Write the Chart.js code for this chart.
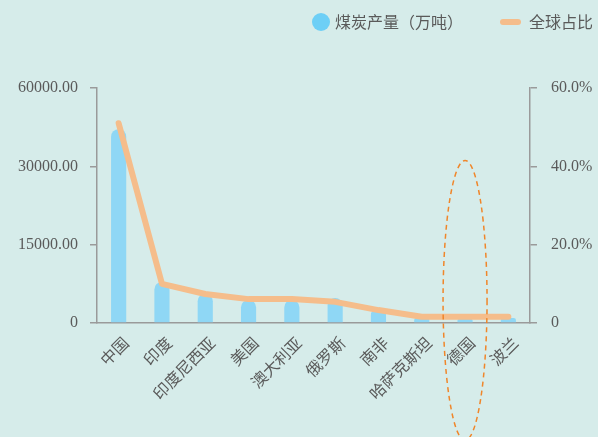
<!DOCTYPE html>
<html lang="zh">
<head>
<meta charset="UTF-8">
<title>煤炭产量与全球占比</title>
<script src="https://cdn.jsdelivr.net/npm/chart.js"></script>
<style>
    html, body { margin: 0; padding: 0; background: #d6ecea; }
    #wrap { width: 598px; height: 437px; }
</style>
</head>
<body>
<div id="wrap"><canvas id="coalChart" width="598" height="437"></canvas></div>
<script>
    // 数据
    const countries = ['中国', '印度', '印度尼西亚', '美国', '澳大利亚', '俄罗斯', '南非', '哈萨克斯坦', '德国', '波兰'];
    const output = [49500, 10500, 7500, 5900, 5900, 6400, 3800, 1300, 1100, 1300];   // 煤炭产量（万吨）
    const share = [51.0, 10.0, 7.4, 6.1, 6.1, 5.4, 3.3, 1.6, 1.6, 1.6];               // 全球占比 %
    const leftTickLabels = ['0', '15000.00', '30000.00', '60000.00'];
    const rightTickLabels = ['0', '20.0%', '40.0%', '60.0%'];
    const legendNames = ['煤炭产量（万吨）', '全球占比'];

    const cjk = '"Noto Sans CJK SC", sans-serif';
    const serif = '"Liberation Serif", serif';
    const axisGray = '#9a9a9a';
    const textGray = '#5a5a5a';

    // 自绘图例 + 德国处虚线椭圆
    const extras = {
        id: 'extras',
        afterDatasetsDraw(chart) {
            const ctx = chart.ctx;
            const x = chart.scales.x;
            const yr = chart.scales.yRight;
            ctx.save();
            ctx.strokeStyle = '#f0862a';
            ctx.lineWidth = 1.5;
            ctx.setLineDash([5, 4]);
            const cx = x.getPixelForValue(8);
            const top = yr.getPixelForValue(41.5);
            const ry = 140;
            ctx.beginPath();
            ctx.ellipse(cx, top + ry, 22, ry, 0, 0, Math.PI * 2);
            ctx.stroke();
            ctx.restore();
        },
        afterDraw(chart) {
            const ctx = chart.ctx;
            ctx.save();
            ctx.textBaseline = 'middle';
            ctx.font = '16px ' + cjk;
            ctx.fillStyle = '#6dcff6';
            ctx.beginPath();
            ctx.arc(321, 22, 9, 0, Math.PI * 2);
            ctx.fill();
            ctx.fillStyle = textGray;
            ctx.fillText(legendNames[0], 335, 22);
            ctx.strokeStyle = '#f5bd8b';
            ctx.lineWidth = 6;
            ctx.lineCap = 'round';
            ctx.beginPath();
            ctx.moveTo(503, 22);
            ctx.lineTo(518, 22);
            ctx.stroke();
            ctx.fillText(legendNames[1], 529, 22);
            ctx.restore();
        }
    };

    new Chart(document.getElementById('coalChart'), {
        data: {
            labels: countries,
            datasets: [
                {
                    type: 'line',
                    label: legendNames[1],
                    data: share,
                    yAxisID: 'yRight',
                    borderColor: '#f5bd8b',
                    borderWidth: 6,
                    borderCapStyle: 'round',
                    borderJoinStyle: 'round',
                    pointRadius: 0,
                    tension: 0,
                    order: 0
                },
                {
                    type: 'bar',
                    label: legendNames[0],
                    data: output,
                    yAxisID: 'y',
                    backgroundColor: '#8fd7f5',
                    barPercentage: 0.35,
                    categoryPercentage: 1,
                    borderRadius: { topLeft: 8, topRight: 8 },
                    borderSkipped: 'bottom',
                    order: 1
                }
            ]
        },
        options: {
            responsive: false,
            animation: false,
            layout: { padding: { top: 88, left: 0, right: 0, bottom: 0 } },
            plugins: {
                legend: { display: false },
                tooltip: { enabled: false }
            },
            scales: {
                x: {
                    grid: { display: false },
                    border: { display: true, color: axisGray, width: 1.5 },
                    ticks: {
                        autoSkip: false,
                        maxRotation: 45,
                        minRotation: 45,
                        color: textGray,
                        font: { family: cjk, size: 16 },
                        padding: 2,
                        labelOffset: 7
                    },
                    afterFit(s) { s.height = 114; }
                },
                y: {
                    position: 'left',
                    min: 0,
                    max: 60000,
                    grid: { drawOnChartArea: false, drawTicks: true, tickLength: 7, color: axisGray, lineWidth: 1.5 },
                    border: { display: true, color: axisGray, width: 1.5 },
                    ticks: {
                        stepSize: 20000,
                        color: textGray,
                        font: { family: serif, size: 16 },
                        padding: 12,
                        callback: (v, i) => leftTickLabels[i]
                    },
                    afterFit(s) { s.width = 97; }
                },
                yRight: {
                    position: 'right',
                    min: 0,
                    max: 60,
                    grid: { drawOnChartArea: false, drawTicks: true, tickLength: 7, color: axisGray, lineWidth: 1.5 },
                    border: { display: true, color: axisGray, width: 1.5 },
                    ticks: {
                        stepSize: 20,
                        color: textGray,
                        font: { family: serif, size: 16 },
                        padding: 14,
                        callback: (v, i) => rightTickLabels[i]
                    },
                    afterFit(s) { s.width = 68; }
                }
            }
        },
        plugins: [extras]
    });
</script>
</body>
</html>
